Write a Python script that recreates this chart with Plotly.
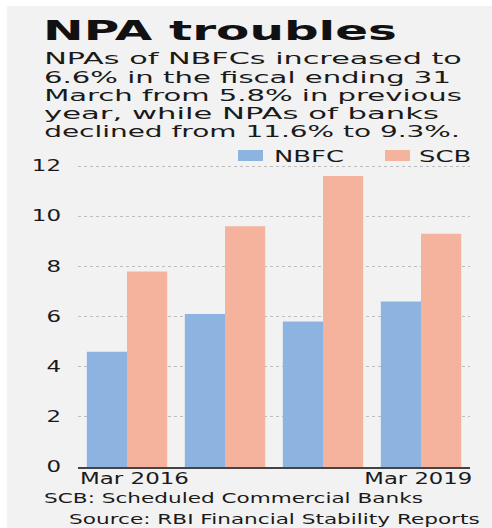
import json
import plotly.graph_objects as go

# ---- data ----
periods = ["Mar 2016", "Mar 2017", "Mar 2018", "Mar 2019"]
nbfc = [4.6, 6.1, 5.8, 6.6]
scb = [7.8, 9.6, 11.6, 9.3]
shown_ticks = ["Mar 2016", "Mar 2019"]
y_ticks = [0, 2, 4, 6, 8, 10, 12]

title = "NPA troubles"
kicker = "TROUBLE IN NPA OF NBFCs & COMMERCIAL BANKS"
subtitle_lines = [
    "NPAs of NBFCs increased to",
    "6.6% in the fiscal ending 31",
    "March from 5.8% in previous",
    "year, while NPAs of banks",
    "declined from 11.6% to 9.3%.",
]
note = "SCB: Scheduled Commercial Banks"
source = "Source: RBI Financial Stability Reports"

W, H = 492, 528
L, R, T, B = 78, 22, 151, 61
PW, PH = W - L - R, H - T - B

def px(x):
    return (x - L) / PW

def py(y):
    return (H - B - y) / PH

FONT = "DejaVu Sans"
BLUE = "#8db4e0"
SALMON = "#f5b39d"
PANEL = "#f2f2f2"
TXT = "#1a1a1a"

fig = go.Figure()
fig.add_trace(go.Bar(name="NBFC", x=periods, y=nbfc, marker=dict(color=BLUE, line=dict(width=0)), showlegend=False))
fig.add_trace(go.Bar(name="SCB", x=periods, y=scb, marker=dict(color=SALMON, line=dict(width=0)), showlegend=False))

shapes = [
    dict(type="rect", xref="paper", yref="paper", x0=px(7), x1=px(492), y0=py(528), y1=py(6),
         fillcolor=PANEL, line=dict(width=0), layer="below"),
    dict(type="rect", xref="paper", yref="paper", x0=px(238), x1=px(263), y0=py(161), y1=py(150),
         fillcolor=BLUE, line=dict(width=0)),
    dict(type="rect", xref="paper", yref="paper", x0=px(385), x1=px(410), y0=py(161), y1=py(150),
         fillcolor=SALMON, line=dict(width=0)),
]

ann = []
groups = {}  # group -> members, target width (px) of its first member, scale origin

def add(text, x, y, size, group, target=None, origin=0.0,
        xanchor="left", yanchor="middle", bold=False, color=TXT):
    idx = len(ann)
    ann.append(dict(text=("<b>%s</b>" % text) if bold else text, x=x, y=py(y),
                    xanchor=xanchor, yanchor=yanchor, xref="paper", yref="paper", showarrow=False,
                    font=dict(family=FONT, size=size, color=color)))
    g = groups.setdefault(group, {"members": [], "origin": origin})
    g["members"].append(idx)
    if target is not None:
        g["target"] = target
    return idx

add(kicker, px(43), 5, 15, "kicker", target=427, yanchor="bottom", bold=True)
add(title, px(41), 31, 27, "title", target=354, bold=True, color="#111111")
sub_y = [58.5, 77.5, 95.5, 113.5, 131.5]
sub_right = [460, 449, 460, 437, 458]
for i, line in enumerate(subtitle_lines):
    add(line, px(42), sub_y[i], 16.5, "sub%d" % i, target=sub_right[i] - 42)
add("NBFC", px(272), 156, 16, "legend", target=70)
add("SCB", px(417), 156, 16, "legend")
add(note, px(42), 497.5, 14, "foot", target=379)
add(source, px(67), 519, 14, "foot")
# first and last period labels, at the two ends of the category axis
add(shown_ticks[0], 0.0, 478.5, 15, "xtick0", target=109, origin=0.0, xanchor="left")
add(shown_ticks[1], px(474), 478.5, 15, "xtick1", target=108, origin=1.0, xanchor="right")

fig.update_layout(
    width=W, height=H,
    margin=dict(l=L, r=R, t=T, b=B, pad=0),
    paper_bgcolor="white",
    plot_bgcolor="rgba(0,0,0,0)",
    barmode="group", bargap=0.18, bargroupgap=0,
    shapes=shapes, annotations=ann,
    showlegend=False,
    hovermode=False,
    xaxis=dict(
        type="category", categoryarray=periods, showticklabels=False, automargin=False,
        showline=True, linecolor="#444444", linewidth=1.5,
        showgrid=False, ticks="",
    ),
    yaxis=dict(
        range=[0, 12.6], tickvals=y_ticks, showgrid=True, gridcolor="#bdbdbd", automargin=False,
        griddash="dot", gridwidth=1, zeroline=False, showline=False, ticks="",
        ticklabelstandoff=16, tickfont=dict(family=FONT, size=15, color=TXT),
    ),
)

# The reference's lettering is drawn horizontally widened; reproduce that width.
post = """
var gd = document.getElementById('{plot_id}');
var groups = %s;
var tickScale = 1.53;
function sx(el, s, ax) {
  var cur = el.getAttribute('transform') || '';
  if (el.__set !== undefined && cur === el.__set) return;
  var b = el.getBBox();
  var ox = b.x + ax * b.width;
  var t = cur + ' translate(' + ox + ',0) scale(' + s + ',1) translate(' + (-ox) + ',0)';
  el.setAttribute('transform', t);
  el.__set = t;
}
function applyAll() {
  var anns = {};
  gd.querySelectorAll('g.annotation').forEach(function (g) {
    anns[+g.getAttribute('data-index')] = g.querySelector('text.annotation-text');
  });
  Object.keys(groups).forEach(function (k) {
    var grp = groups[k];
    var ref = anns[grp.members[0]];
    if (!ref) return;
    if (grp.scale === undefined) {
      grp.scale = grp.target / ref.getBBox().width;
    }
    grp.members.forEach(function (i) { if (anns[i]) sx(anns[i], grp.scale, grp.origin); });
  });
  gd.querySelectorAll('.ytick text').forEach(function (t) { sx(t, tickScale, 1); });
}
applyAll();
[30, 150, 400, 1000].forEach(function (ms) { setTimeout(applyAll, ms); });
""" % json.dumps(groups)

fig.write_html("out.html", post_script=post, config={"staticPlot": True})
